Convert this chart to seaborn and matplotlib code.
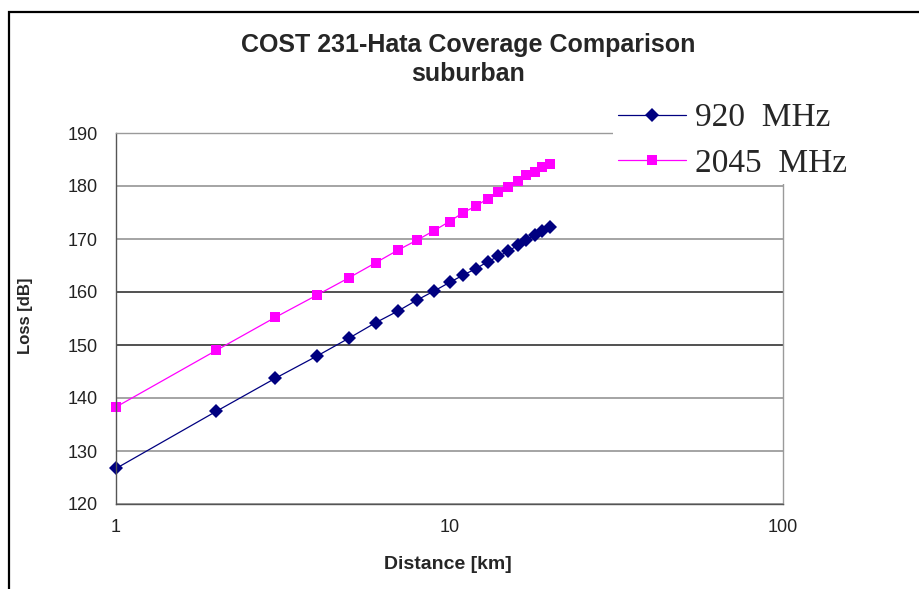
import matplotlib
matplotlib.use("Agg")
import matplotlib.pyplot as plt
import matplotlib.ticker as mticker
from matplotlib.patches import Rectangle
import seaborn as sns

# data
distance_km = list(range(1, 21))
loss_920 = [126.7, 137.5, 143.7, 147.9, 151.3, 154.2, 156.4, 158.5, 160.2, 161.8,
            163.2, 164.4, 165.7, 166.7, 167.7, 168.8, 169.8, 170.7, 171.5, 172.2]
loss_2045 = [138.3, 149.0, 155.2, 159.4, 162.7, 165.5, 167.9, 169.8, 171.6, 173.3,
             175.0, 176.2, 177.6, 178.8, 179.8, 181.0, 182.0, 182.7, 183.5, 184.2]
series_labels = ["920  MHz", "2045  MHz"]
y_ticks = [120, 130, 140, 150, 160, 170, 180, 190]
x_major = [1, 10, 100]

sns.set_style("white")
plt.rcParams["font.family"] = ["Liberation Sans", "DejaVu Sans"]

fig = plt.figure(figsize=(9.19, 5.89), dpi=100)
ax = fig.add_axes([116 / 919, 1 - 504 / 589, 667 / 919, 371 / 589])

# outer frame of the chart area
fig.patches.append(Rectangle((9 / 919, -0.1), 1.2, 1 - 12 / 589 + 0.1,
                             transform=fig.transFigure, fill=False,
                             edgecolor="black", linewidth=1.6, zorder=0))

sns.lineplot(x=distance_km, y=loss_920, ax=ax, color="#000080", linewidth=0.9,
             marker="D", markersize=7, markeredgewidth=0, clip_on=False,
             label=series_labels[0])
sns.lineplot(x=distance_km, y=loss_2045, ax=ax, color="#FF00FF", linewidth=0.9,
             marker="s", markersize=6.5, markeredgewidth=0, clip_on=False,
             label=series_labels[1])

ax.set_xscale("log")
ax.set_xlim(1, 100)
ax.set_ylim(120, 190)
ax.set_yticks(y_ticks)
ax.xaxis.set_major_locator(mticker.FixedLocator(x_major))
ax.xaxis.set_major_formatter(mticker.FixedFormatter([str(v) for v in x_major]))
ax.xaxis.set_minor_locator(mticker.LogLocator(base=10, subs=range(2, 10)))
ax.xaxis.set_minor_formatter(mticker.NullFormatter())

ax.yaxis.grid(True, color="#8c8c8c", linewidth=1.1)
ax.xaxis.grid(False)
for g, v in zip(ax.get_ygridlines(), y_ticks):
    if v in (150, 160):
        g.set_color("#222222")

for side in ("left", "bottom"):
    ax.spines[side].set_color("#555555")
    ax.spines[side].set_linewidth(1.0)
for side in ("top", "right"):
    ax.spines[side].set_color("#9a9a9a")
    ax.spines[side].set_linewidth(1.0)

ax.tick_params(axis="y", which="major", direction="out", length=6, width=1,
               color="#555555", pad=7, labelsize=13, labelcolor="#222222")
ax.tick_params(axis="x", which="major", direction="out", length=4, width=1.2,
               color="#333333", pad=7, labelsize=13, labelcolor="#222222")
ax.tick_params(axis="x", which="minor", direction="out", length=3, width=1.2,
               color="#333333")

ax.set_xlabel("Distance [km]", fontsize=14, fontweight="bold")
ax.set_ylabel("Loss [dB]", fontsize=12, fontweight="bold")
ax.xaxis.set_label_coords(0.498, -0.140)
ax.yaxis.set_label_coords(-0.124, 0.507)

fig.text(468 / 919, 1 - 52 / 589, "COST 231-Hata Coverage Comparison",
         ha="center", va="baseline", fontsize=18, fontweight="bold")
fig.text(468 / 919, 1 - 81 / 589, "suburban",
         ha="center", va="baseline", fontsize=18, fontweight="bold")

ax.legend(loc="center left", bbox_to_anchor=(613 / 919, 1 - 141 / 589),
          bbox_transform=fig.transFigure, frameon=True, facecolor="white",
          edgecolor="none", framealpha=1, borderpad=0.15, borderaxespad=0,
          handlelength=2.05, handletextpad=0.25, labelspacing=0.45,
          prop={"family": "Liberation Serif", "size": 24})

fig.savefig("out.png", dpi=100)
